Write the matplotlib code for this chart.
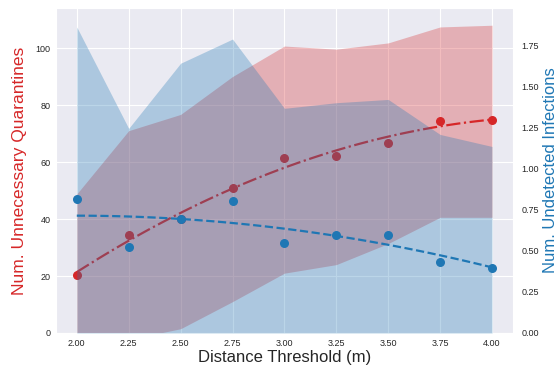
import matplotlib
matplotlib.use("Agg")
import matplotlib.pyplot as plt
import numpy as np
import seaborn as sns

# Daten
distanz = [2.00, 2.25, 2.50, 2.75, 3.00, 3.25, 3.50, 3.75, 4.00]

quarantaene = [20.5, 34.4, 40.0, 51.0, 61.3, 62.0, 66.6, 74.4, 74.8]
quarantaene_oben = [48.8, 71.0, 76.7, 90.0, 100.7, 99.6, 101.8, 107.4, 108.0]
quarantaene_unten = [-5.0, -2.3, 1.5, 11.0, 21.0, 24.0, 31.4, 40.6, 40.6]

infektionen = [0.817, 0.524, 0.695, 0.805, 0.549, 0.598, 0.598, 0.433, 0.396]
infektionen_oben = [1.86, 1.244, 1.64, 1.787, 1.366, 1.40, 1.42, 1.207, 1.134]
infektionen_unten = [0, 0, 0, 0, 0, 0, 0, 0, 0]

rot = "#d62728"
blau = "#1f77b4"

sns.set_style("darkgrid")
plt.rcParams["font.family"] = ["Liberation Sans", "DejaVu Sans"]

fig = plt.figure(figsize=(5.58, 3.70), dpi=100)
ax1 = fig.add_axes([0.1004, 0.1, 0.8186, 0.878])
ax2 = ax1.twinx()

# Quarantaenen (links)
ax1.fill_between(distanz, quarantaene_unten, quarantaene_oben, color=rot, alpha=0.3, linewidth=0)
ax1.scatter(distanz, quarantaene, color=rot, s=30, zorder=3)
xs = np.linspace(distanz[0], distanz[-1], 100)
fit1 = np.polyfit(distanz, quarantaene, 2)
ax1.plot(xs, np.polyval(fit1, xs), color=rot, linestyle="-.", linewidth=1.6, zorder=3)

# Infektionen (rechts)
ax2.fill_between(distanz, infektionen_unten, infektionen_oben, color=blau, alpha=0.3, linewidth=0)
ax2.scatter(distanz, infektionen, color=blau, s=30, zorder=3)
fit2 = np.polyfit(distanz, infektionen, 2)
ax2.plot(xs, np.polyval(fit2, xs), color=blau, linestyle="--", linewidth=1.6, zorder=3)

ax1.set_xlim(1.9, 4.1)
ax1.set_ylim(0, 114)
ax2.set_ylim(0, 1.975)
ax1.set_xticks(distanz)
ax1.set_xticklabels(["%.2f" % d for d in distanz])
ax1.set_yticks([0, 20, 40, 60, 80, 100])
ax2.set_yticks([0, 0.25, 0.5, 0.75, 1.0, 1.25, 1.5, 1.75])
ax2.set_yticklabels(["0.00", "0.25", "0.50", "0.75", "1.00", "1.25", "1.50", "1.75"])
ax2.grid(False)

ax1.tick_params(labelsize=6.5, pad=4, length=0)
ax2.tick_params(labelsize=6.5, pad=6, length=0)

ax1.set_xlabel("Distance Threshold (m)", fontsize=12, labelpad=2)
ax1.set_ylabel("Num. Unnecessary Quarantines", fontsize=12.5, color=rot, labelpad=6)
ax2.set_ylabel("Num. Undetected Infections", fontsize=12, color=blau, labelpad=3)

for sp in ax2.spines.values():
    sp.set_visible(False)

plt.savefig("out.png", dpi=100)
